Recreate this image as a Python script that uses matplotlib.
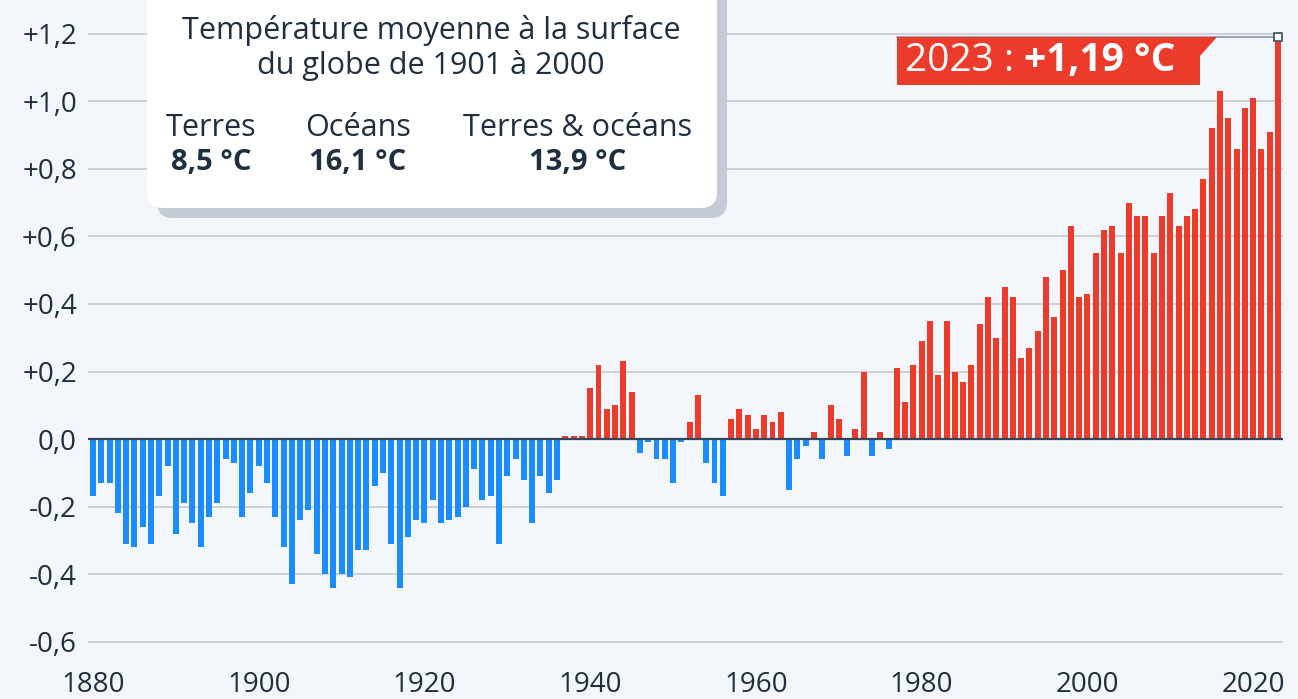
import matplotlib
matplotlib.use('Agg')
import matplotlib.pyplot as plt
from matplotlib.patches import FancyBboxPatch, Polygon
from matplotlib.transforms import Affine2D
import numpy as np

plt.rcParams['font.family'] = ['Open Sans', 'DejaVu Sans']

# anomalies vs. 1901-2000 mean (°C), 1880 -> 2023
years = list(range(1880, 2024))
anomaly = [
    -0.17, -0.13, -0.13, -0.22, -0.31, -0.32, -0.26, -0.31, -0.17, -0.08,
    -0.28, -0.19, -0.25, -0.32, -0.23, -0.19, -0.06, -0.07, -0.23, -0.16,
    -0.08, -0.13, -0.23, -0.32, -0.43, -0.24, -0.21, -0.34, -0.40, -0.44,
    -0.40, -0.41, -0.33, -0.33, -0.14, -0.10, -0.31, -0.44, -0.29, -0.24,
    -0.25, -0.18, -0.25, -0.24, -0.23, -0.20, -0.09, -0.18, -0.17, -0.31,
    -0.11, -0.06, -0.12, -0.25, -0.11, -0.16, -0.12, 0.01, 0.01, 0.01,
    0.15, 0.22, 0.09, 0.10, 0.23, 0.14, -0.04, -0.01, -0.06, -0.06,
    -0.13, -0.01, 0.05, 0.13, -0.07, -0.13, -0.17, 0.06, 0.09, 0.07,
    0.03, 0.07, 0.05, 0.08, -0.15, -0.06, -0.02, 0.02, -0.06, 0.10,
    0.06, -0.05, 0.03, 0.20, -0.05, 0.02, -0.03, 0.21, 0.11, 0.22,
    0.29, 0.35, 0.19, 0.35, 0.20, 0.17, 0.22, 0.34, 0.42, 0.30,
    0.45, 0.42, 0.24, 0.27, 0.32, 0.48, 0.36, 0.50, 0.63, 0.42,
    0.43, 0.55, 0.62, 0.63, 0.55, 0.70, 0.66, 0.66, 0.55, 0.66,
    0.73, 0.63, 0.66, 0.68, 0.77, 0.92, 1.03, 0.95, 0.86, 0.98,
    1.01, 0.86, 0.91, 1.19,
]
y_ticks = [-0.6, -0.4, -0.2, 0.0, 0.2, 0.4, 0.6, 0.8, 1.0, 1.2]
x_ticks = [1880, 1900, 1920, 1940, 1960, 1980, 2000, 2020]

box_title = 'Température moyenne à la surface\ndu globe de 1901 à 2000'
box_labels = ['Terres', 'Océans', 'Terres & océans']
box_values = ['8,5 °C', '16,1 °C', '13,9 °C']

BG = '#f3f6fa'
RED = '#ec3a2b'
BLUE = '#1b8cff'
INK = '#1f2f3f'
GRID = '#c9cfd7'

W, H = 1298, 699
fig = plt.figure(figsize=(W / 100, H / 100), dpi=100, facecolor=BG)
ax = fig.add_axes([88 / W, 1 - 658.4 / H, (1283 - 88) / W, (658.4 - 17.1) / H])
ax.set_facecolor(BG)

colors = [RED if v > 0 else BLUE for v in anomaly]
ax.bar(years, anomaly, width=0.72, color=colors, zorder=2)
ax.axhline(0, color='#34465a', linewidth=1.6, zorder=3)

ax.set_xlim(1879.4, 2023.6)
ax.set_ylim(-0.65, 1.25)
ax.set_yticks(y_ticks)
ax.set_yticklabels(['0,0' if abs(v) < 1e-9 else f'{v:+.1f}'.replace('.', ',') for v in y_ticks])
ax.set_xticks(x_ticks)
ax.set_xticklabels([str(x) for x in x_ticks])
ax.tick_params(axis='both', length=0, labelsize=20, colors=INK)
ax.tick_params(axis='y', pad=8)
ax.tick_params(axis='x', pad=9)
ax.grid(axis='y', color=GRID, linewidth=1.3, zorder=1)
ax.grid(axis='x', visible=False)
for s in ax.spines.values():
    s.set_visible(False)

# pixel coords, origin at top-left
px = Affine2D().scale(1 / W, -1 / H).translate(0, 1) + fig.transFigure

# info box with shadow
fig.add_artist(FancyBboxPatch((157, -20), 570, 238, boxstyle='round,pad=0,rounding_size=16',
                              transform=px, facecolor='#c5ccd5', edgecolor='none', zorder=4))
fig.add_artist(FancyBboxPatch((147, -30), 570, 238, boxstyle='round,pad=0,rounding_size=16',
                              transform=px, facecolor='white', edgecolor='none', zorder=5))
fig.text(431 / W, 1 - 48 / H, box_title, ha='center', va='center', fontsize=22,
         color=INK, linespacing=1.15, zorder=6)
for cx, lab, val in zip([211, 358, 578], box_labels, box_values):
    fig.text(cx / W, 1 - 128 / H, lab, ha='center', va='center', fontsize=22, color=INK, zorder=6)
    fig.text(cx / W, 1 - 162 / H, val, ha='center', va='center', fontsize=21,
             fontweight='bold', color=INK, zorder=6)

# callout for the last year
last_year, last_val = years[-1], anomaly[-1]
ax.plot([1977, last_year], [last_val, last_val], color='#8a97a6', linewidth=1.2,
        zorder=4, clip_on=False)
ax.plot([last_year], [last_val], marker='s', markersize=6, markerfacecolor='white',
        markeredgecolor='#4a5868', markeredgewidth=1.3, zorder=6, clip_on=False)
fig.add_artist(Polygon([(897, 37), (1217, 37), (1200, 56), (1200, 85), (897, 85)],
                       closed=True, transform=px, facecolor=RED, edgecolor='none', zorder=5))
fig.text(1024 / W, 1 - 61 / H, f'{last_year} : ', ha='right', va='center', fontsize=28,
         color='white', zorder=6)
fig.text(1024 / W, 1 - 61 / H, f'+{last_val:.2f}'.replace('.', ',') + ' °C', ha='left',
         va='center', fontsize=28, fontweight='bold', color='white', zorder=6)

fig.savefig('out.png', dpi=100, facecolor=BG)
